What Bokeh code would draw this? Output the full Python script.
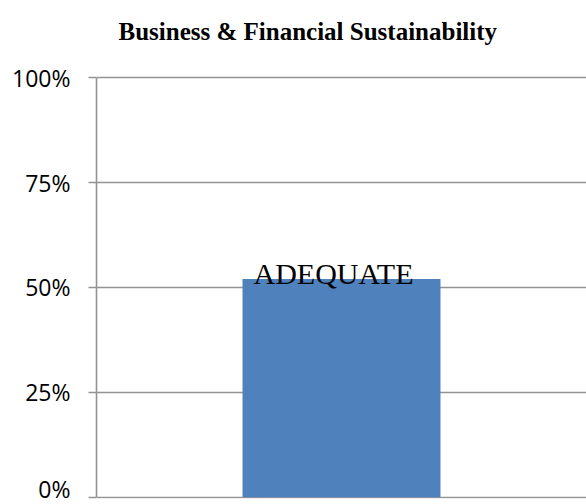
from bokeh.plotting import figure
from bokeh.models import FixedTicker, NumeralTickFormatter, Range1d, FactorRange
from bokeh.core.properties import value
from bokeh.embed import file_html
from bokeh.resources import INLINE

title_text = "Business & Financial Sustainability"
categories = ["Business & Financial Sustainability"]
values = [0.52]
bar_labels = ["ADEQUATE"]
y_ticks = [0, 0.25, 0.5, 0.75, 1.0]

GRID = "#939393"

# frame extends to the top of the canvas so the title can sit inside it;
# the value axis itself is bounded to 0..100%
p = figure(width=586, height=504, output_backend="svg", toolbar_location=None,
           x_range=FactorRange(factors=categories), y_range=Range1d(-0.003, 1.184),
           min_border_left=96, min_border_right=0, min_border_top=0, min_border_bottom=6)
p.outline_line_color = None
p.background_fill_color = "white"
p.border_fill_color = "white"

p.vbar(x=categories, top=values, width=0.404, color="#4F81BD", line_color=None)
p.text(x=categories, y=values, text=bar_labels, text_font=value("Liberation Serif"),
       text_font_size="30px", text_align="center", text_baseline="alphabetic",
       y_offset=-6, x_offset=-8, text_color="#000000")

# chart title, floated above the 100% line
p.text(x=categories, y=[y_ticks[-1]], text=[title_text], text_font=value("Liberation Serif"),
       text_font_size="25px", text_font_style="bold", text_align="left",
       text_baseline="alphabetic", x_offset=-223, y_offset=-46, text_color="#000000")

p.xaxis.visible = False
p.xgrid.grid_line_color = None
p.ygrid.grid_line_color = GRID
p.ygrid.grid_line_width = 1.6
p.ygrid.ticker = FixedTicker(ticks=y_ticks)

ax = p.yaxis[0]
ax.bounds = (y_ticks[0], y_ticks[-1])
ax.ticker = FixedTicker(ticks=y_ticks)
ax.formatter = NumeralTickFormatter(format="0%")
ax.axis_line_color = GRID
ax.axis_line_width = 1.6
ax.major_tick_line_color = GRID
ax.major_tick_line_width = 1.6
ax.major_tick_out = 8
ax.major_tick_in = 0
ax.minor_tick_line_color = None
ax.major_label_text_font = "Open Sans"
ax.major_label_text_font_size = "23px"
ax.major_label_text_color = "#000000"
ax.major_label_standoff = 18

open("out.html", "w").write(file_html(p, INLINE))
